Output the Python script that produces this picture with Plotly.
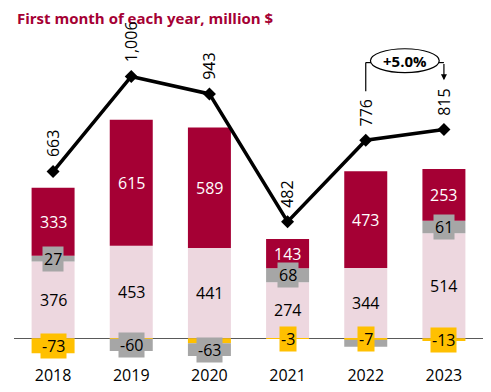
import plotly.graph_objects as go

years = ["2018", "2019", "2020", "2021", "2022", "2023"]
pink = [376, 453, 441, 274, 344, 514]
gray = [27, -60, -63, 68, -34, 61]
red = [333, 615, 589, 143, 473, 253]
yellow = [-73, -2, -24, -3, -7, -13]
total = [663, 1006, 943, 482, 776, 815]
gray_show = [True, True, True, True, False, True]
yellow_show = [True, False, False, True, True, True]
title = "First month of each year, million $"

C_RED = "#A50034"
C_PINK = "#EDD7DF"
C_GRAY = "#A6A6A6"
C_YEL = "#FFC000"
FONT = "Open Sans"

xs = list(range(len(years)))

fig = go.Figure()
for vals, col, name in [(pink, C_PINK, "pink"), (yellow, C_YEL, "yellow"),
                        (gray, C_GRAY, "gray"), (red, C_RED, "red")]:
    fig.add_trace(go.Bar(x=xs, y=vals, marker=dict(color=col, line=dict(width=0)),
                         name=name, showlegend=False, hoverinfo="skip"))

fig.add_trace(go.Scatter(x=xs, y=total, yaxis="y2", mode="lines+markers",
                         line=dict(color="black", width=3.5),
                         marker=dict(symbol="diamond", size=10, color="black"),
                         showlegend=False, hoverinfo="skip"))

ann = []
for i in xs:
    ann.append(dict(x=i, y=pink[i] / 2, text=str(pink[i]), showarrow=False,
                    font=dict(color="black", size=16, family=FONT)))
    pos_base = pink[i]
    if gray[i] > 0:
        gy = pink[i] + gray[i] / 2
        pos_base = pink[i] + gray[i]
    else:
        gy = yellow[i] + gray[i] / 2
    ann.append(dict(x=i, y=pos_base + red[i] / 2, text=str(red[i]), showarrow=False,
                    font=dict(color="white", size=16, family=FONT)))
    if yellow_show[i]:
        ann.append(dict(x=i, y=yellow[i] / 2, text=str(yellow[i]), showarrow=False,
                        bgcolor=C_YEL, borderpad=1,
                        font=dict(color="black", size=16, family=FONT)))
    if gray_show[i]:
        ann.append(dict(x=i, y=gy, text=str(gray[i]), showarrow=False,
                        bgcolor=C_GRAY, borderpad=1,
                        font=dict(color="black", size=16, family=FONT)))
    ann.append(dict(x=i, y=total[i], yref="y2", text=f"{total[i]:,}", showarrow=False,
                    textangle=-90, yanchor="bottom", yshift=12,
                    font=dict(color="black", size=16, family=FONT)))

pct = (total[-1] / total[-2] - 1) * 100
ann.append(dict(x=4.5, y=1063, yref="y2", text=f"<b>{pct:+.1f}%</b>", showarrow=False,
                font=dict(color="black", size=15, family=FONT)))
ann.append(dict(x=5, y=992, yref="y2", ax=5, ay=1056, axref="x", ayref="y2",
                text="", showarrow=True, arrowhead=2, arrowsize=1, arrowwidth=1.2,
                arrowcolor="black"))

shapes = [
    dict(type="line", xref="x", yref="y2", x0=4, x1=4, y0=953, y1=1056,
         line=dict(color="black", width=1.2)),
    dict(type="line", xref="x", yref="y2", x0=4, x1=4.07, y0=1056, y1=1056,
         line=dict(color="black", width=1.2)),
    dict(type="line", xref="x", yref="y2", x0=4.93, x1=5, y0=1056, y1=1056,
         line=dict(color="black", width=1.2)),
    dict(type="circle", xref="x", yref="y2", x0=4.06, x1=4.94, y0=1020, y1=1106,
         line=dict(color="black", width=1.2), fillcolor="white"),
]

fig.update_layout(
    title=dict(text=f"<b>{title}</b>", x=9 / 483, xanchor="left", xref="container",
               y=1 - 5 / 384, yanchor="top", yref="container", pad=dict(t=0, l=0),
               font=dict(color=C_RED, size=15, family=FONT)),
    barmode="relative", bargap=0.45,
    width=483, height=384,
    margin=dict(l=6, r=8, t=22, b=24),
    paper_bgcolor="white", plot_bgcolor="white",
    xaxis=dict(range=[-0.5, 5.5], tickvals=xs, ticktext=years, showgrid=False,
               showline=False, ticks="", zeroline=False,
               tickfont=dict(size=16, color="black", family=FONT)),
    yaxis=dict(range=[-125.6, 1507], showgrid=False, showticklabels=False,
               zeroline=True, zerolinecolor="#595959", zerolinewidth=1),
    yaxis2=dict(range=[-31.4, 1173.6], overlaying="y", showgrid=False,
                showticklabels=False, zeroline=False),
    annotations=ann, shapes=shapes,
    font=dict(family=FONT),
)
fig.write_html("out.html")
